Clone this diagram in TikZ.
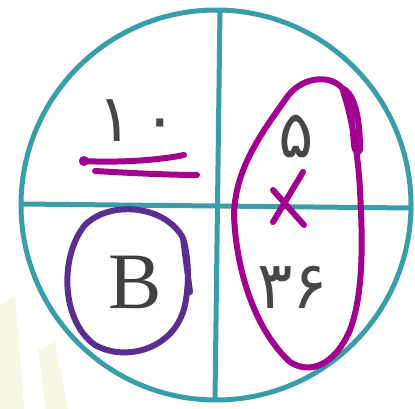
\documentclass[tikz,border=0pt]{standalone}
\usepackage{fontspec}
\newfontfamily\arabicfont[Script=Arabic]{DejaVu Sans}
\newfontfamily\timesfont{Liberation Serif}
\definecolor{teal1}{HTML}{3A9DAA}
\definecolor{pen}{HTML}{A2008E}
\definecolor{violetpen}{HTML}{5A2D8E}
\definecolor{wm}{HTML}{F8F6E4}
\tikzset{
  ring/.style={draw=teal1, line width=5pt},
  penline/.style={draw=pen, line width=6pt, line cap=round, line join=round},
  vpen/.style={draw=violetpen, line width=6pt, line cap=round, line join=round},
  digit/.style={font=\arabicfont\fontsize{66}{66}\selectfont, text=black!72, inner sep=0pt},
}
\begin{document}
\begin{tikzpicture}[x=1pt,y=-1pt]
\useasboundingbox (0,0) rectangle (415,409);
% faint watermark
\fill[wm] (0,305) -- (15,296) -- (24,409) -- (0,409) -- cycle;
\fill[wm] (38,350) -- (55,342) -- (68,409) -- (46,409) -- cycle;
% circle and cross lines
\coordinate (c) at (216,205);
\draw[ring] (c) circle (195);
\coordinate (top) at (220,10);
\coordinate (bot) at (215,400);
\coordinate (lft) at (21,204);
\coordinate (rgt) at (411,208);
\draw[ring] (top) -- (bot);
\draw[ring] (lft) -- (rgt);
% texts
\node[digit] (ten) at (138,121) {۱\hspace{10pt}۰};
\node[digit] (five) at (296,136) {۵};
\node[digit] (thirtysix) at (293,287) {۳۶};
\node[inner sep=0pt, text=black!75, font=\timesfont\fontsize{80}{80}\selectfont] (B) at (135,282) {B};
% underlines
\draw[penline] (82,161) .. controls (120,163) and (160,160) .. (184,155);
\fill[pen] (84,161) circle (5);
\draw[penline] (95,171) .. controls (130,173) and (170,175) .. (197,175);
% cross
\draw[penline] (273,222) -- (303,172);
\draw[penline] (273,190) -- (304,225);
% oval around right column
\draw[penline] (342,88) .. controls (330,74) and (300,76) .. (285,100)
  .. controls (260,135) and (235,170) .. (234,215)
  .. controls (236,270) and (255,330) .. (290,362)
  .. controls (310,375) and (335,365) .. (350,330)
  .. controls (365,290) and (362,230) .. (360,190)
  .. controls (358,150) and (350,110) .. (342,88)
  .. controls (352,92) and (360,110) .. (360,150)
  .. controls (358,155) and (355,152) .. (354,145)
  .. controls (352,120) and (350,100) .. (342,88);
% purple circle around B
\draw[vpen] (183,238) .. controls (165,205) and (110,200) .. (85,225)
  .. controls (60,255) and (60,320) .. (95,345)
  .. controls (125,362) and (175,350) .. (185,305)
  .. controls (190,280) and (188,255) .. (183,238)
  -- (190,292);
\end{tikzpicture}
\end{document}
